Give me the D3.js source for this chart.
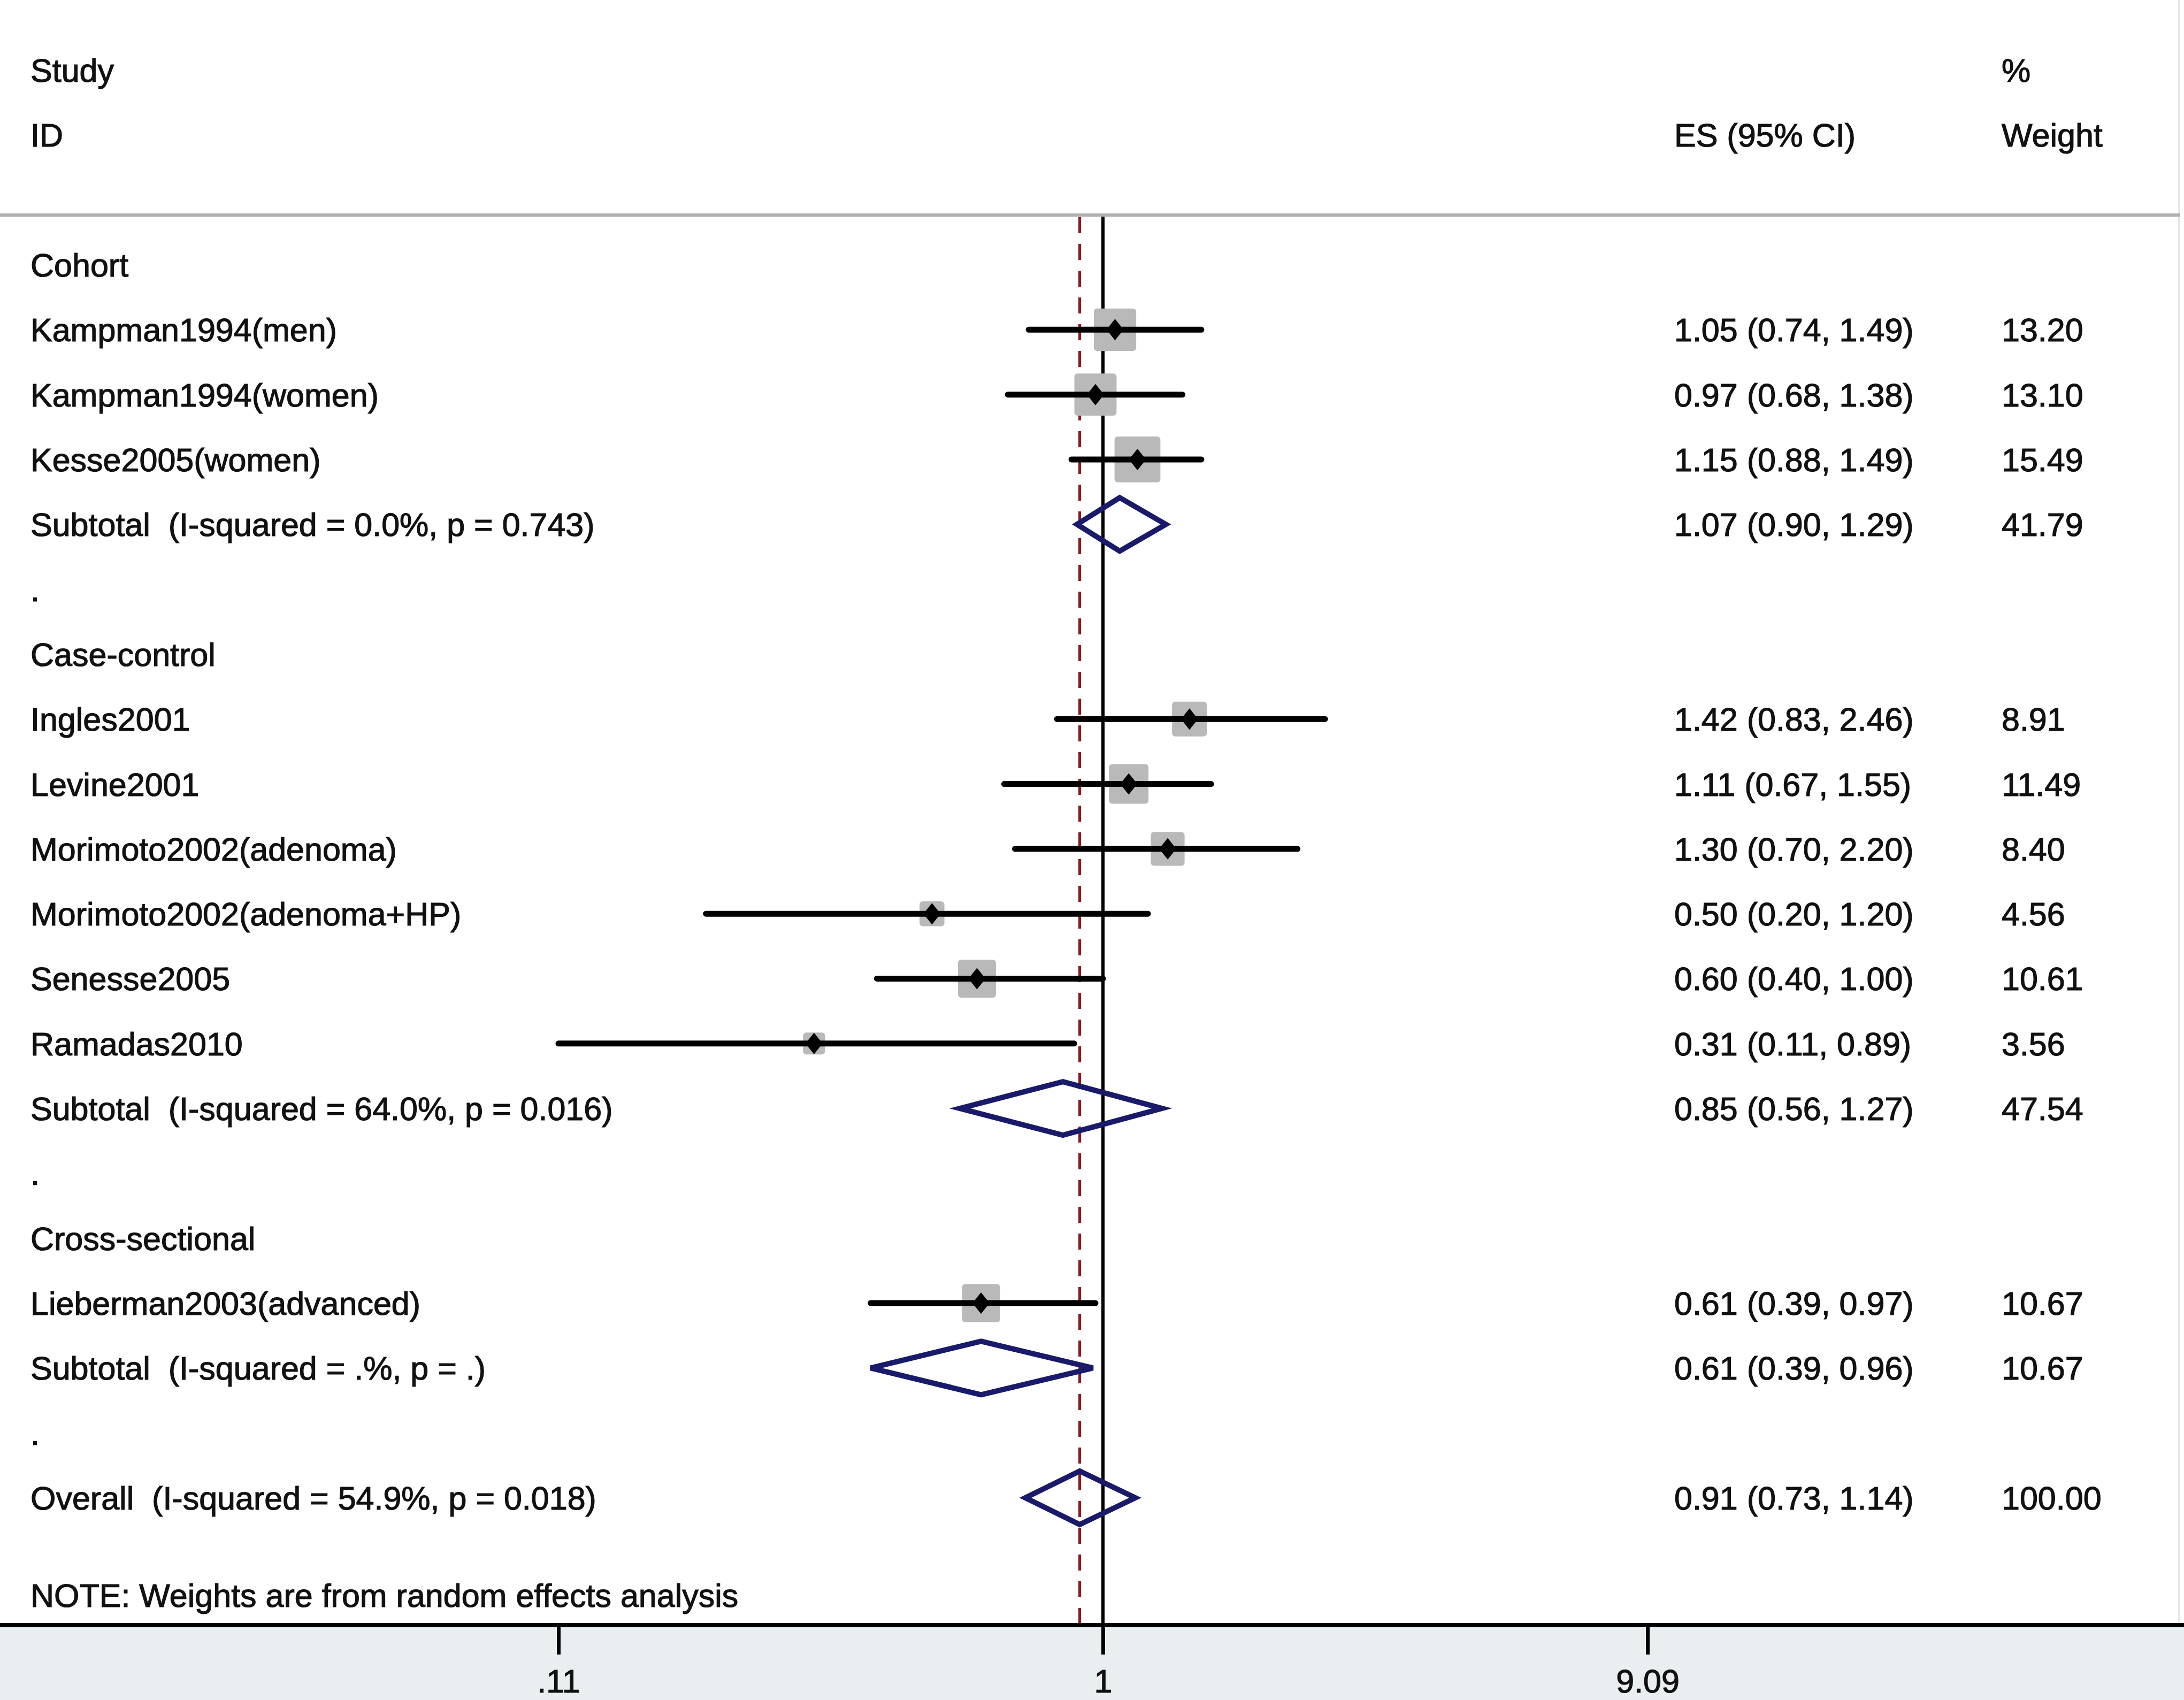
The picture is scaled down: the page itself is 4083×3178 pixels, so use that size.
<!DOCTYPE html>
<html lang="en">
<head>
  <meta charset="UTF-8">
  <title>Forest plot</title>
  <script src="https://cdn.jsdelivr.net/npm/d3@7"></script>
  <style>
    body { margin: 0; background: #fff; }
    text { font-family: "Liberation Sans", Arial, sans-serif; white-space: pre; }
  </style>
</head>
<body>
  <svg class="forest"></svg>
</body>
</html>
<script>
  var svgWidth = 4083;
  var svgHeight = 3178;

  // one entry per row of the plot, top to bottom
  var rowLabels = [
    'Cohort',
    'Kampman1994(men)',
    'Kampman1994(women)',
    'Kesse2005(women)',
    'Subtotal  (I-squared = 0.0%, p = 0.743)',
    '.',
    'Case-control',
    'Ingles2001',
    'Levine2001',
    'Morimoto2002(adenoma)',
    'Morimoto2002(adenoma+HP)',
    'Senesse2005',
    'Ramadas2010',
    'Subtotal  (I-squared = 64.0%, p = 0.016)',
    '.',
    'Cross-sectional',
    'Lieberman2003(advanced)',
    'Subtotal  (I-squared = .%, p = .)',
    '.',
    'Overall  (I-squared = 54.9%, p = 0.018)'
  ];
  var rowTypes = ['group', 'study', 'study', 'study', 'subtotal', 'gap',
    'group', 'study', 'study', 'study', 'study', 'study', 'study', 'subtotal', 'gap',
    'group', 'study', 'subtotal', 'gap', 'subtotal'];
  var esValues = [null, 1.05, 0.97, 1.15, 1.07, null,
    null, 1.42, 1.11, 1.30, 0.50, 0.60, 0.31, 0.85, null,
    null, 0.61, 0.61, null, 0.91];
  var ciLower = [null, 0.74, 0.68, 0.88, 0.90, null,
    null, 0.83, 0.67, 0.70, 0.20, 0.40, 0.11, 0.56, null,
    null, 0.39, 0.39, null, 0.73];
  var ciUpper = [null, 1.49, 1.38, 1.49, 1.29, null,
    null, 2.46, 1.55, 2.20, 1.20, 1.00, 0.89, 1.27, null,
    null, 0.97, 0.96, null, 1.14];
  var weights = [null, 13.20, 13.10, 15.49, 41.79, null,
    null, 8.91, 11.49, 8.40, 4.56, 10.61, 3.56, 47.54, null,
    null, 10.67, 10.67, null, 100.00];

  var tickValues = [0.11, 1, 9.09];
  var tickLabels = ['.11', '1', '9.09'];
  var overallEs = 0.91;

  var rows = rowLabels.map(function(label, i) {
    return {label: label, type: rowTypes[i], es: esValues[i], lo: ciLower[i], hi: ciUpper[i], w: weights[i], i: i};
  });

  var headerY = 402;
  var axisY = 3038;
  var fontSize = 61;

  var xScale = d3.scaleLog()
  .domain([0.11, 9.09])
  .range([1044, 3080]);

  var yScale = d3.scaleLinear()
  .domain([0, 19])
  .range([495, 2800]);

  var sizeScale = d3.scaleSqrt()
  .domain([0, 100])
  .range([0, 218]);

  var svg = d3.select('.forest')
  .attr('width', svgWidth)
  .attr('height', svgHeight);

  // shaded band under the axis
  svg.append('rect')
  .attr('x', 0)
  .attr('y', axisY)
  .attr('width', svgWidth)
  .attr('height', svgHeight - axisY)
  .attr('fill', '#e9eff0');

  // faint right border
  svg.append('line')
  .attr('x1', 4074).attr('x2', 4074)
  .attr('y1', 0).attr('y2', axisY)
  .attr('stroke', '#e6e6e6')
  .attr('stroke-width', 4);

  // column headers
  var header = svg.append('g').attr('font-size', fontSize).attr('fill', '#111')
  .attr('stroke', '#111').attr('stroke-width', 1.2);
  header.append('text').attr('x', 57).attr('y', yScale(-3) + 22).text('Study');
  header.append('text').attr('x', 57).attr('y', yScale(-2) + 22).text('ID');
  header.append('text').attr('x', 3130).attr('y', yScale(-2) + 22).text('ES (95% CI)');
  header.append('text').attr('x', 3742).attr('y', yScale(-3) + 22).text('%');
  header.append('text').attr('x', 3742).attr('y', yScale(-2) + 22).text('Weight');

  svg.append('line')
  .attr('x1', 0).attr('x2', 4076)
  .attr('y1', headerY).attr('y2', headerY)
  .attr('stroke', '#b0b0b0')
  .attr('stroke-width', 6);

  // reference line at 1 and dashed overall line
  svg.append('line')
  .attr('x1', xScale(1)).attr('x2', xScale(1))
  .attr('y1', headerY + 3).attr('y2', axisY)
  .attr('stroke', '#000')
  .attr('stroke-width', 6);

  svg.append('line')
  .attr('x1', xScale(overallEs)).attr('x2', xScale(overallEs))
  .attr('y1', headerY + 4).attr('y2', axisY)
  .attr('stroke', '#8e1b1f')
  .attr('stroke-width', 5)
  .attr('stroke-dasharray', '30,20');

  var studies = rows.filter(function(d) { return d.type === 'study'; });
  var summaries = rows.filter(function(d) { return d.type === 'subtotal'; });

  // weight boxes
  svg.append('g').selectAll('rect')
  .data(studies)
  .enter()
  .append('rect')
  .attr('x', function(d) { return xScale(d.es) - sizeScale(d.w) / 2; })
  .attr('y', function(d) { return yScale(d.i) - sizeScale(d.w) / 2; })
  .attr('width', function(d) { return sizeScale(d.w); })
  .attr('height', function(d) { return sizeScale(d.w); })
  .attr('rx', 6)
  .attr('fill', '#b9b9b9');

  // confidence intervals
  svg.append('g').selectAll('line')
  .data(studies)
  .enter()
  .append('line')
  .attr('x1', function(d) { return xScale(d.lo); })
  .attr('x2', function(d) { return xScale(d.hi); })
  .attr('y1', function(d) { return yScale(d.i); })
  .attr('y2', function(d) { return yScale(d.i); })
  .attr('stroke', '#000')
  .attr('stroke-width', 11)
  .attr('stroke-linecap', 'round');

  // point estimates
  svg.append('g').selectAll('path')
  .data(studies)
  .enter()
  .append('path')
  .attr('d', function(d) {
    var cx = xScale(d.es), cy = yScale(d.i);
    return 'M' + (cx - 16) + ',' + cy + 'L' + cx + ',' + (cy - 20) +
      'L' + (cx + 16) + ',' + cy + 'L' + cx + ',' + (cy + 20) + 'Z';
  })
  .attr('fill', '#000');

  // pooled diamonds
  svg.append('g').selectAll('path')
  .data(summaries)
  .enter()
  .append('path')
  .attr('d', function(d) {
    var cy = yScale(d.i);
    return 'M' + xScale(d.lo) + ',' + cy + 'L' + xScale(d.es) + ',' + (cy - 50) +
      'L' + xScale(d.hi) + ',' + cy + 'L' + xScale(d.es) + ',' + (cy + 50) + 'Z';
  })
  .attr('fill', 'none')
  .attr('stroke', '#1a1a6b')
  .attr('stroke-width', 10)
  .attr('stroke-linejoin', 'miter');

  // text columns
  var labels = svg.append('g').attr('font-size', fontSize).attr('fill', '#111')
  .attr('stroke', '#111').attr('stroke-width', 1.2);
  labels.selectAll('text.name')
  .data(rows)
  .enter()
  .append('text')
  .attr('class', 'name')
  .attr('x', 57)
  .attr('y', function(d) { return yScale(d.i) + 22; })
  .text(function(d) { return d.label; });

  var withEs = rows.filter(function(d) { return d.es !== null; });
  labels.selectAll('text.es')
  .data(withEs)
  .enter()
  .append('text')
  .attr('class', 'es')
  .attr('x', 3130)
  .attr('y', function(d) { return yScale(d.i) + 22; })
  .text(function(d) {
    return d.es.toFixed(2) + ' (' + d.lo.toFixed(2) + ', ' + d.hi.toFixed(2) + ')';
  });

  labels.selectAll('text.wt')
  .data(withEs)
  .enter()
  .append('text')
  .attr('class', 'wt')
  .attr('x', 3742)
  .attr('y', function(d) { return yScale(d.i) + 22; })
  .text(function(d) { return d.w.toFixed(2); });

  labels.append('text')
  .attr('x', 57)
  .attr('y', 3004)
  .text('NOTE: Weights are from random effects analysis');

  // x axis
  var xAxis = d3.axisBottom(xScale)
  .tickValues(tickValues)
  .tickSize(55)
  .tickPadding(28)
  .tickFormat(function(d, i) { return tickLabels[i]; });

  var axisG = svg.append('g')
  .attr('transform', 'translate(0,' + axisY + ')')
  .call(xAxis);
  axisG.select('.domain').remove();
  axisG.selectAll('.tick line').attr('stroke', '#000').attr('stroke-width', 7);
  axisG.selectAll('.tick text')
  .attr('font-family', '"Liberation Sans", Arial, sans-serif')
  .attr('font-size', fontSize)
  .attr('fill', '#111')
  .attr('stroke', '#111')
  .attr('stroke-width', 1.2)
  .attr('dy', 0)
  .attr('y', 126);

  svg.append('line')
  .attr('x1', 0).attr('x2', svgWidth)
  .attr('y1', axisY).attr('y2', axisY)
  .attr('stroke', '#000')
  .attr('stroke-width', 8);
</script>
